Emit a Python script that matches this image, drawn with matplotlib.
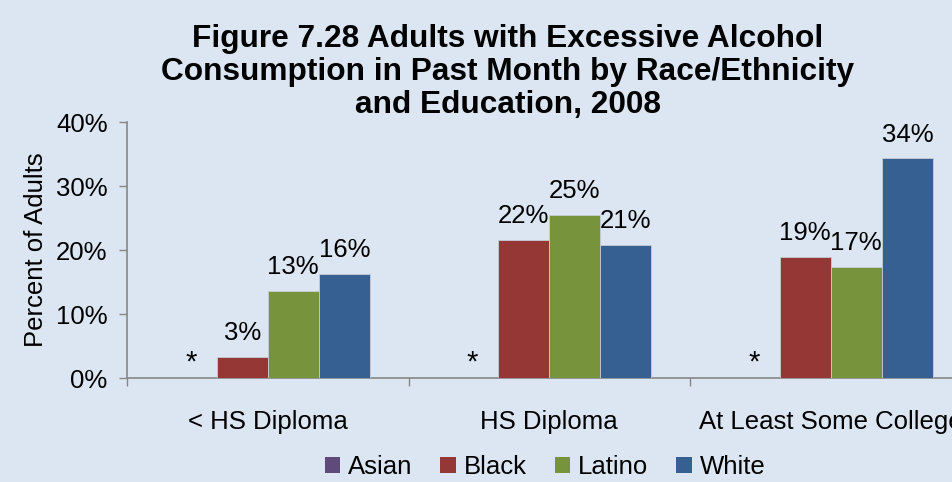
import matplotlib
matplotlib.use("Agg")
import matplotlib.pyplot as plt
import numpy as np
from matplotlib.patches import Patch

plt.rcParams['font.family'] = ['Liberation Sans', 'DejaVu Sans']

categories = ["< HS Diploma", "HS Diploma", "At Least Some College"]
series = ["Asian", "Black", "Latino", "White"]
asian = [np.nan, np.nan, np.nan]
black = [3.3, 21.6, 18.95]
latino = [13.6, 25.5, 17.4]
white = [16.25, 20.8, 34.3]
labels_black = ["3%", "22%", "19%"]
labels_latino = ["13%", "25%", "17%"]
labels_white = ["16%", "21%", "34%"]
labels_asian = ["*", "*", "*"]
yticks = [0, 10, 20, 30, 40]
ytick_labels = ["0%", "10%", "20%", "30%", "40%"]

colors = ["#604a7b", "#953735", "#77933c", "#376092"]
bg = "#dce6f2"
fs = 18.5

fig = plt.figure(figsize=(9.52, 4.82), dpi=100)
fig.patch.set_facecolor(bg)
ax = fig.add_axes([127/952, 104/482, 844.5/952, 256/482])
ax.set_facecolor(bg)

x = np.arange(len(categories))
w = 0.1815
data = [asian, black, latino, white]
labs = [labels_asian, labels_black, labels_latino, labels_white]
for i, (vals, col, lab) in enumerate(zip(data, colors, labs)):
    pos = x + (i - 1.5) * w
    v = np.nan_to_num(np.array(vals, dtype=float))
    ax.bar(pos, v, width=w, color=col, edgecolor="#c8ccd4", linewidth=0.6, zorder=3)
    for p, val, t, orig in zip(pos, v, lab, vals):
        if np.isnan(orig):
            ax.text(p, 0.2, t, ha="center", va="bottom", fontsize=21, color="black")
        else:
            ax.text(p, val + 1.8, t, ha="center", va="bottom", fontsize=fs, color="black")

ax.set_xlim(-0.5, len(categories) - 0.5)
ax.set_ylim(0, 40)
ax.set_yticks(yticks)
ax.set_yticklabels(ytick_labels, fontsize=fs)
ax.set_xticks(x)
ax.set_xticklabels(categories, fontsize=fs)
ax.tick_params(axis="x", which="major", length=0, pad=23)
ax.set_xticks(np.arange(-0.5, len(categories)), minor=True)
ax.tick_params(axis="x", which="minor", length=6, color="#868686", width=1)
ax.tick_params(axis="y", length=6, color="#868686", width=1, pad=8)
for s in ["top", "right"]:
    ax.spines[s].set_visible(False)
for s in ["left", "bottom"]:
    ax.spines[s].set_color("#868686")
    ax.spines[s].set_linewidth(1.2)
ax.set_ylabel("Percent of Adults", fontsize=fs, labelpad=6)

fig.text(508/952, 1 - 72/482, "Figure 7.28 Adults with Excessive Alcohol\nConsumption in Past Month by Race/Ethnicity\nand Education, 2008",
         ha="center", va="center", fontsize=22.8, fontweight="bold", linespacing=1.14)

handles = [Patch(facecolor=c, edgecolor="none") for c in colors]
fig.legend(handles, series, loc="center", bbox_to_anchor=(545/952, 1 - 467/482), ncol=4,
           frameon=False, fontsize=fs, handlelength=0.6, handleheight=0.6,
           handletextpad=0.3, columnspacing=1.1, borderaxespad=0)

fig.savefig("out.png", dpi=100, facecolor=bg)
